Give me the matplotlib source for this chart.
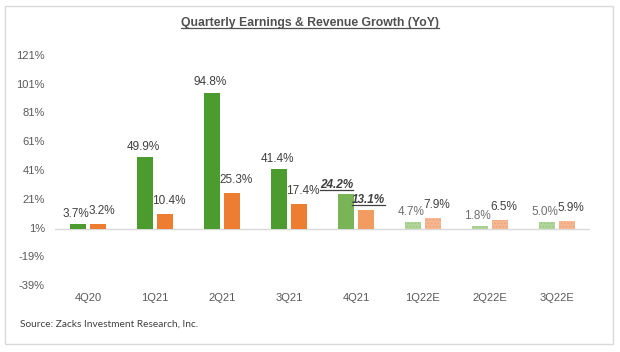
import numpy as np
import matplotlib.pyplot as plt
from matplotlib.patches import Rectangle
from matplotlib.lines import Line2D

quarters = ['4Q20', '1Q21', '2Q21', '3Q21', '4Q21', '1Q22E', '2Q22E', '3Q22E']
earnings = [3.7, 49.9, 94.8, 41.4, 24.2, 4.7, 1.8, 5.0]
revenue = [3.2, 10.4, 25.3, 17.4, 13.1, 7.9, 6.5, 5.9]
y_ticks = [-39, -19, 1, 21, 41, 61, 81, 101, 121]
current = 4          # reporting quarter, estimates come after it

plt.rcParams['font.family'] = ['Liberation Sans', 'DejaVu Sans']

fig = plt.figure(figsize=(6.2, 3.52), dpi=100)
ax = fig.add_axes([0.088, 0.19, 0.864, 0.654])

x = np.arange(len(quarters))
w = 0.24
off = 0.147

green = ['#4c9b2f'] * current + ['#79b457'] + ['#b3d69c'] * (len(quarters) - current - 1)
orange = ['#ed7d31'] * current + ['#f29c62'] + ['#f6b994'] * (len(quarters) - current - 1)

b1 = ax.bar(x - off, earnings, w, color=green, linewidth=0)
b2 = ax.bar(x + off, revenue, w, color=orange, linewidth=0)

# estimates get a dotted fill
for i in range(current + 1, len(quarters)):
    b1[i].set_hatch('.....')
    b1[i].set_edgecolor('#9cc982')
    b1[i].set_linewidth(0)
    b2[i].set_hatch('.....')
    b2[i].set_edgecolor('#eea57a')
    b2[i].set_linewidth(0)

ax.set_xlim(-0.5, len(quarters) - 0.5)
ax.set_ylim(-39, 121)
ax.set_yticks(y_ticks)
ax.set_yticklabels([f'{t}%' for t in y_ticks])
ax.set_xticks(x)
ax.set_xticklabels(quarters)
ax.tick_params(length=0, labelsize=8, colors='#595959')
ax.tick_params(axis='y', pad=7)
ax.tick_params(axis='x', pad=0)
for lab in ax.get_xticklabels():
    lab.set_y(-0.035)
for s in ax.spines.values():
    s.set_visible(False)
ax.axhline(0, color='#d9d9d9', lw=1, zorder=0)

underline = []
for i in range(len(quarters)):
    if i == current:
        t1 = ax.annotate(f'{earnings[i]:.1f}%', (x[i] - off, earnings[i]), xytext=(-7, 2),
                         textcoords='offset points', ha='center', va='bottom', fontsize=8.5,
                         color='#404040', weight='bold', style='italic')
        t2 = ax.annotate(f'{revenue[i]:.1f}%', (x[i] + off, revenue[i]), xytext=(2, 3),
                         textcoords='offset points', ha='center', va='bottom', fontsize=8.5,
                         color='#404040', weight='bold', style='italic')
        underline += [t1, t2]
    else:
        ec = '#404040' if i < current else '#6f6f6f'
        ax.annotate(f'{earnings[i]:.1f}%', (x[i] - off, earnings[i]), xytext=(-1.5, 3),
                    textcoords='offset points', ha='center', va='bottom', fontsize=8.5, color=ec)
        ax.annotate(f'{revenue[i]:.1f}%', (x[i] + off, revenue[i]), xytext=(3, 5),
                    textcoords='offset points', ha='center', va='bottom', fontsize=8.5,
                    color='#404040')

title = fig.text(0.5, 1 - 23 / 352, 'Quarterly Earnings & Revenue Growth (YoY)', ha='center',
                 va='center', fontsize=8.8, color='#505050', weight='bold')
underline.append(title)

fig.text(20 / 620, 1 - 324 / 352, 'Source: Zacks Investment Research, Inc.', fontsize=7.3,
         color='#404040', va='center', family=['Lato', 'DejaVu Sans'])

fig.patches.append(Rectangle((5 / 620, 1 - 344 / 352), 608 / 620, 338 / 352,
                             transform=fig.transFigure, fill=False, ec='#d9d9d9', lw=1))

# underline texts
fig.canvas.draw()
r = fig.canvas.get_renderer()
inv = fig.transFigure.inverted()
for t in underline:
    bb = t.get_window_extent(r)
    (x0, y0), (x1, y1) = inv.transform([[bb.x0, bb.y0 + 1], [bb.x1, bb.y0 + 1]])
    fig.add_artist(Line2D([x0, x1], [y0, y1], transform=fig.transFigure,
                          color=t.get_color(), lw=0.9))

fig.savefig('out.png', dpi=100)
